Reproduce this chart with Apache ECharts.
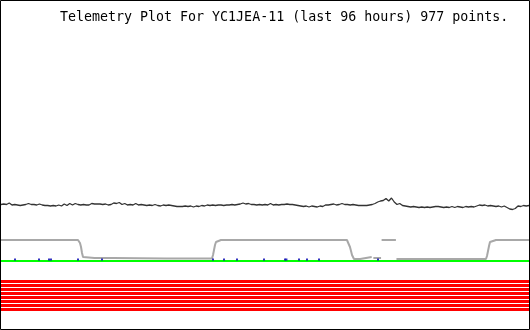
<!DOCTYPE html>
<html>
<head>
<meta charset="utf-8">
<script src="https://cdn.jsdelivr.net/npm/echarts@6/dist/echarts.min.js"></script>
<style>
html,body{margin:0;padding:0;background:#fff;}
#chart{width:530px;height:330px;}
</style>
</head>
<body>
<div id="chart"></div>
<script>
// ---- data ----
var titleText = 'Telemetry Plot For YC1JEA-11 (last 96 hours) 977 points.';
var HOURS = 96;
var DARK_STEP = 0.5; // hours between samples shown for the dark trace
var darkValues = [
 125.5,126,125.5,127,125,125.5,125,124.5,125,125.5,
 126.5,125.5,125.5,125,126,125,124.5,124.5,124,124.5,
 124,125,124,126,124.5,126.5,125,126.5,125.5,125,
 125.5,125,125,126.5,126,126,126,125.5,126,125,
 125.5,127,126.5,127.5,125.5,126.5,125,125.5,125,126.5,
 125,125.5,125,124.5,125,124.5,125.5,124.5,124,125,
 124.5,125,124.5,124,123.5,123.5,123.5,124,123.5,124,
 123,124,123.5,124.5,124,125,124.5,125,124.5,125,
 125,124.5,125,125,125.5,125,125.5,126,127,126,
 126.5,125.5,125.5,125,125.5,125,125.5,125,126.5,125,
 125.5,125,125.5,125.5,126,125.5,125.5,125,124.5,124,
 123.5,124,123,124,123.5,123,124,123.5,125,125,
 125.5,126,125,125.5,126.5,125.5,125.5,125,125.5,125,
 124.5,124.5,124.5,124.5,125,125.5,126.5,128,129,129.5,
 131.5,129,132,128,125.5,126.5,124.5,124,123.5,123,
 123.5,123,122.5,123,122.5,123,122.5,123,123.5,123.5,
 123,122.5,123,122.5,123.5,122.5,123.5,123,122.5,123.5,
 123,123.5,123,124,125,124.5,125,124,124.5,124,
 123.5,124,123,124,122.5,121,120.5,121.5,124,123.5,
 124.5,124,124.5
];
var grayTimes = [0,7,14.0,14.36,14.55,14.73,14.91,15.09,17,20.4,20.45,30,38.36,38.55,38.73,38.91,39.09,39.45,40,
 50,62.9,63.1,63.45,63.64,63.82,64.18,65.3,65.35,67.4,67.5,67.7,69.1,69.15,69.2,71.8,71.85,
 71.9,80,88.18,88.36,88.55,88.73,88.91,89.27,90,93,96];
var grayValues = [90,90,90,87,83,77,73,72,72,72,71.5,71.5,71.5,75,80,85,88,90,90,
 90,90,88,83,79,75,71,71,73,73,null,72,72,null,90,90,null,
 71,71,71,74,79,84,88,90,90,90,90];
var greenTimes = [0, 96];
var greenValues = [69, 69];
var blueTimes = [2.55,6.91,8.73,9.09,14.0,18.36,38.55,40.55,42.91,47.82,51.64,51.9,54.18,55.64,57.82,68.55];
var blueValue = 70.5;
var redTimes = [0, 96];
var redLevels = [48.5, 44.5, 40.5, 36.5, 32.5, 28.5, 24.5, 20.5];

// ---- build ----
function pairs(ts, vs) {
  return ts.map(function (t, i) { return [t, vs[i] === null ? '-' : vs[i]]; });
}
var series = [];
redLevels.forEach(function (lv) {
  series.push({
    type: 'line', data: pairs(redTimes, [lv, lv]), showSymbol: false, silent: true,
    lineStyle: { color: '#ff0000', width: 3 }, z: 2
  });
});
series.push({
  type: 'line', data: pairs(greenTimes, greenValues), showSymbol: false, silent: true,
  lineStyle: { color: '#00ff00', width: 2 }, z: 3
});
series.push({
  type: 'scatter', data: blueTimes.map(function (t) { return [t, blueValue]; }),
  symbol: 'rect', symbolSize: [2, 2], silent: true,
  itemStyle: { color: '#0000b0' }, z: 4
});
series.push({
  type: 'line', data: pairs(grayTimes, grayValues), showSymbol: false, silent: true,
  connectNulls: false, lineStyle: { color: '#a8a8a8', width: 2 }, z: 3
});
series.push({
  type: 'line', data: darkValues.map(function (v, i) { return [i * DARK_STEP, v]; }),
  showSymbol: false, silent: true,
  lineStyle: { color: '#333333', width: 1.3 }, z: 5
});

var chart = echarts.init(document.getElementById('chart'), null, { renderer: 'canvas' });
chart.setOption({
  animation: false,
  backgroundColor: '#ffffff',
  title: {
    text: titleText, left: 60, top: 11, padding: 0,
    textStyle: { fontFamily: '"DejaVu Sans Mono", monospace', fontSize: 13.3, fontWeight: 'normal', color: '#000' }
  },
  grid: { left: 1, right: 1, top: 0, bottom: 0, containLabel: false },
  xAxis: { type: 'value', min: 0, max: HOURS, show: false },
  yAxis: { type: 'value', min: 0, max: 330, show: false },
  graphic: [{
    type: 'rect', shape: { x: 0.5, y: 0.5, width: 529, height: 329 },
    style: { fill: null, stroke: '#000', lineWidth: 1 }, z: 100, silent: true
  }],
  series: series
});
</script>
</body>
</html>
